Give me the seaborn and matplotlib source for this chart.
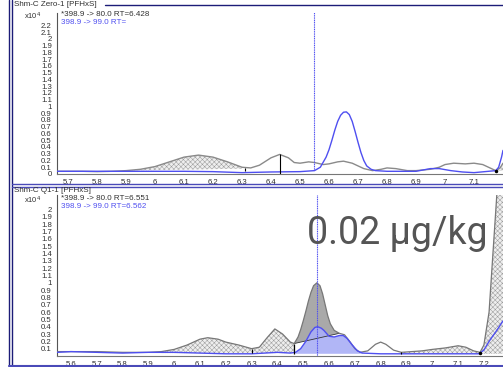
import numpy as np
import matplotlib
matplotlib.use("Agg")
import matplotlib.pyplot as plt
import seaborn as sns

# ---------------- data (intensity in x10^4 counts) ----------------
# Top panel: Shm-C Zero-1
top_rt_80 = [5.66, 5.70, 5.75, 5.80, 5.85, 5.90, 5.95, 6.00, 6.05, 6.10, 6.15, 6.20, 6.25,
             6.30, 6.33, 6.36, 6.40, 6.43, 6.46, 6.48, 6.50, 6.53, 6.55, 6.58, 6.60, 6.63,
             6.65, 6.68, 6.72, 6.75, 6.78, 6.80, 6.83, 6.87, 6.90, 6.95, 6.98, 7.00, 7.03,
             7.07, 7.10, 7.13, 7.16, 7.175, 7.19, 7.20]
top_int_80 = [0.04, 0.04, 0.04, 0.035, 0.04, 0.05, 0.07, 0.11, 0.18, 0.25, 0.28, 0.25, 0.18,
              0.10, 0.09, 0.13, 0.24, 0.29, 0.24, 0.17, 0.16, 0.18, 0.17, 0.14, 0.15, 0.18,
              0.19, 0.16, 0.08, 0.05, 0.07, 0.09, 0.08, 0.05, 0.05, 0.07, 0.10, 0.14, 0.16,
              0.15, 0.16, 0.14, 0.08, 0.05, 0.09, 0.16]
top_rt_99 = [5.66, 5.80, 5.90, 6.00, 6.10, 6.20, 6.30, 6.40, 6.50, 6.55, 6.57, 6.59, 6.60,
             6.61, 6.62, 6.63, 6.64, 6.65, 6.66, 6.67, 6.68, 6.69, 6.70, 6.71, 6.72, 6.73,
             6.745, 6.76, 6.80, 6.85, 6.90, 6.95, 6.98, 7.02, 7.06, 7.10, 7.15, 7.175, 7.185,
             7.195, 7.20]
top_int_99 = [0.04, 0.04, 0.04, 0.04, 0.04, 0.035, 0.02, 0.03, 0.035, 0.05, 0.10, 0.25, 0.36,
              0.50, 0.65, 0.78, 0.87, 0.915, 0.92, 0.88, 0.78, 0.63, 0.47, 0.32, 0.20, 0.12,
              0.07, 0.05, 0.04, 0.04, 0.04, 0.08, 0.08, 0.05, 0.03, 0.02, 0.04, 0.05, 0.10,
              0.25, 0.35]

# Bottom panel: Shm-C Q1-1
bot_rt_80 = [5.546, 5.60, 5.70, 5.80, 5.90, 5.95, 6.00, 6.05, 6.10, 6.13, 6.17, 6.20, 6.25,
             6.30, 6.33, 6.36, 6.39, 6.42, 6.45, 6.465, 6.48, 6.49, 6.50, 6.51, 6.52, 6.53,
             6.54, 6.553, 6.565, 6.575, 6.585, 6.595, 6.605, 6.62, 6.64, 6.66, 6.68, 6.70,
             6.72, 6.75, 6.78, 6.80, 6.82, 6.85, 6.88, 6.92, 6.96, 7.00, 7.05, 7.10, 7.13,
             7.16, 7.185, 7.20, 7.22, 7.235, 7.25, 7.26, 7.274]
bot_int_80 = [0.06, 0.06, 0.06, 0.05, 0.05, 0.06, 0.09, 0.15, 0.23, 0.25, 0.23, 0.19, 0.15,
              0.10, 0.12, 0.25, 0.37, 0.30, 0.19, 0.17, 0.26, 0.36, 0.48, 0.61, 0.75, 0.87,
              0.96, 1.00, 0.96, 0.85, 0.70, 0.55, 0.44, 0.35, 0.31, 0.29, 0.20, 0.10,
              0.05, 0.07, 0.16, 0.19, 0.16, 0.08, 0.05, 0.06, 0.07, 0.09, 0.11, 0.14, 0.12,
              0.07, 0.05, 0.15, 0.60, 1.40, 2.20, 2.40, 2.50]
bot_rt_99 = [5.546, 5.60, 5.70, 5.80, 5.90, 6.00, 6.10, 6.20, 6.30, 6.40, 6.45, 6.47, 6.49,
             6.51, 6.53, 6.545, 6.556, 6.57, 6.58, 6.60, 6.62, 6.64, 6.655, 6.67, 6.69, 6.71,
             6.73, 6.80, 6.90, 7.00, 7.10, 7.18, 7.20, 7.22, 7.25, 7.274]
bot_int_99 = [0.05, 0.06, 0.05, 0.04, 0.05, 0.05, 0.04, 0.03, 0.03, 0.05, 0.04, 0.05, 0.10,
              0.20, 0.33, 0.39, 0.40, 0.38, 0.35, 0.27, 0.26, 0.28, 0.28, 0.24, 0.15, 0.07,
              0.04, 0.03, 0.03, 0.03, 0.03, 0.03, 0.08, 0.20, 0.35, 0.48]

expected_rt = [6.548, 6.553]
top_title = "Shm-C Zero-1 [PFHxS]"
bot_title = "Shm-C Q1-1 [PFHxS]"
top_legend = ["*398.9 -> 80.0 RT=6.428", "398.9 -> 99.0 RT="]
bot_legend = ["*398.9 -> 80.0 RT=6.551", "398.9 -> 99.0 RT=6.562"]
top_xticks = [5.7, 5.8, 5.9, 6.0, 6.1, 6.2, 6.3, 6.4, 6.5, 6.6, 6.7, 6.8, 6.9, 7.0, 7.1]
bot_xticks = [5.6, 5.7, 5.8, 5.9, 6.0, 6.1, 6.2, 6.3, 6.4, 6.5, 6.6, 6.7, 6.8, 6.9, 7.0, 7.1, 7.2]
top_yticks = [round(0.1 * i, 1) for i in range(0, 23)]
bot_yticks = [round(0.1 * i, 1) for i in range(1, 21)]
annotation = "0.02 µg/kg"

# ---------------- style ----------------
sns.set_style("white")
plt.rcParams['font.family'] = ['Liberation Sans', 'DejaVu Sans']
plt.rcParams['hatch.linewidth'] = 0.35
plt.rcParams['hatch.color'] = '#9a9a9a'

GRAY = '#8a8a8a'
BLUE = '#4f4ff0'
NAVY = '#1c1c78'
SEP = '#4a4ab8'
TXT = '#303030'

W, H = 503, 367
fig = plt.figure(figsize=(W / 100, H / 100), dpi=100)


def fx(px):
    return px / W


def fy(py):
    return 1 - py / H


def setup(ax, xlim, ylim, xticks, yticks):
    ax.set_xlim(*xlim)
    ax.set_ylim(*ylim)
    ax.set_xticks(xticks)
    ax.set_xticklabels([f"{v:g}" for v in xticks])
    ax.set_yticks(yticks)
    ax.set_yticklabels([f"{v:g}" for v in yticks])
    for s in ['top', 'right']:
        ax.spines[s].set_visible(False)
    ax.spines['left'].set_color('#555555')
    ax.spines['left'].set_linewidth(0.8)
    ax.spines['bottom'].set_color('#777777')
    ax.spines['bottom'].set_linewidth(0.8)
    ax.tick_params(axis='both', direction='out', length=2.5, width=0.6, colors='#555555',
                   labelsize=5.6, labelcolor=TXT, pad=1.2)
    ax.set_xlabel("")
    ax.set_ylabel("")
    ax.patch.set_alpha(0)


# ---------------- top panel ----------------
ax1 = fig.add_axes([fx(57), fy(174), fx(503 - 57), fy(13) - fy(174)])
t80 = np.array(top_rt_80); i80 = np.array(top_int_80)
t99 = np.array(top_rt_99); i99 = np.array(top_int_99)

m = (t80 >= 5.90) & (t80 <= 6.31)
base = np.interp(t80[m], [5.90, 6.31], [0.05, 0.08])
ax1.fill_between(t80[m], base, i80[m], facecolor='#eeeeee', edgecolor='#9a9a9a',
                 hatch='xxxxxxx', linewidth=0, zorder=1)
m = t80 >= 7.175
ax1.fill_between(t80[m], 0.05, i80[m], facecolor='#eeeeee', edgecolor='#9a9a9a',
                 hatch='xxxxxxx', linewidth=0, zorder=1)
sns.lineplot(x=top_rt_80, y=top_int_80, ax=ax1, color=GRAY, lw=1.0, estimator=None, sort=False, zorder=3)
sns.lineplot(x=top_rt_99, y=top_int_99, ax=ax1, color=BLUE, lw=1.0, estimator=None, sort=False, zorder=4)
ax1.vlines(6.43, 0, 0.29, color='black', lw=0.8, zorder=5)
ax1.vlines(6.31, 0.05, 0.09, color='black', lw=0.8, zorder=5)
ax1.plot([7.175], [0.05], 'o', color='black', ms=1.5, zorder=5)
ax1.vlines(expected_rt[0], 0.06, 2.4, color=BLUE, lw=0.8, linestyles=(0, (1, 0.6)), zorder=5)
setup(ax1, (5.662, 7.2), (0, 2.385), top_xticks, top_yticks)

# ---------------- bottom panel ----------------
ax2 = fig.add_axes([fx(57), fy(356), fx(503 - 57), fy(195) - fy(356)])
b80 = np.array(bot_rt_80); j80 = np.array(bot_int_80)
b99 = np.array(bot_rt_99); j99 = np.array(bot_int_99)

m = (b80 >= 5.95) & (b80 <= 6.465)
ax2.fill_between(b80[m], 0.04, j80[m], facecolor='#eeeeee', edgecolor='#9a9a9a',
                 hatch='xxxxxxx', linewidth=0, zorder=1)
m = b80 >= 6.88
ax2.fill_between(b80[m], 0.03, j80[m], facecolor='#eeeeee', edgecolor='#9a9a9a',
                 hatch='xxxxxxx', linewidth=0, zorder=1)
# main peak with sloped baseline
m = (b80 >= 6.465) & (b80 <= 6.64)
line = np.interp(b80[m], [6.465, 6.64], [0.17, 0.31])
ax2.fill_between(b80[m], line, j80[m], facecolor='#a9a9a9', edgecolor='none', zorder=2)
ax2.plot([6.465, 6.64], [0.17, 0.31], color='#333333', lw=0.6, zorder=3)
m = (b99 >= 6.47) & (b99 <= 6.73)
ax2.fill_between(b99[m], 0.03, j99[m], facecolor='#a9aef6', edgecolor='none', alpha=0.9, zorder=2)
sns.lineplot(x=bot_rt_80, y=bot_int_80, ax=ax2, color='#777777', lw=0.9, estimator=None, sort=False, zorder=3)
sns.lineplot(x=bot_rt_99, y=bot_int_99, ax=ax2, color=BLUE, lw=1.0, estimator=None, sort=False, zorder=4)
ax2.vlines(6.30, 0.04, 0.10, color='black', lw=0.8, zorder=5)
ax2.vlines(6.465, 0.03, 0.17, color='black', lw=0.9, zorder=5)
ax2.vlines(6.88, 0.03, 0.06, color='black', lw=0.8, zorder=5)
ax2.plot([7.185], [0.04], 'o', color='black', ms=1.5, zorder=5)
ax2.vlines(expected_rt[1], 0, 2.2, color=BLUE, lw=0.8, linestyles=(0, (1, 0.6)), zorder=5)
setup(ax2, (5.546, 7.274), (0, 2.2), bot_xticks, bot_yticks)

# ---------------- frame & header texts ----------------
for xp in (9, 12):
    fig.add_artist(plt.Line2D([fx(xp), fx(xp)], [0, 1], color=NAVY, lw=1.0))
fig.add_artist(plt.Line2D([fx(105), 1], [fy(4.5), fy(4.5)], color=NAVY, lw=1.0))
for yp in (184, 186.5):
    fig.add_artist(plt.Line2D([fx(12), 1], [fy(yp), fy(yp)], color=SEP, lw=1.0))
fig.add_artist(plt.Line2D([fx(9), 1], [fy(366), fy(366)], color=SEP, lw=1.5))

fs = 5.8
fig.text(fx(14), fy(4.0), top_title, fontsize=fs, color=TXT, va='center', ha='left')
fig.text(fx(24), fy(16), r"x10$^{4}$", fontsize=5.4, color=TXT, va='center', ha='left')
fig.text(fx(61), fy(15), top_legend[0], fontsize=fs, color=TXT, va='center', ha='left')
fig.text(fx(61), fy(22.5), top_legend[1], fontsize=fs, color=BLUE, va='center', ha='left')

fig.text(fx(14), fy(190.5), bot_title, fontsize=fs, color=TXT, va='center', ha='left')
fig.text(fx(24), fy(200), r"x10$^{4}$", fontsize=5.4, color=TXT, va='center', ha='left')
fig.text(fx(61), fy(198.5), bot_legend[0], fontsize=fs, color=TXT, va='center', ha='left')
fig.text(fx(61), fy(206), bot_legend[1], fontsize=fs, color=BLUE, va='center', ha='left')

fig.text(fx(307), fy(233), annotation, fontsize=27, color='#555555', va='center', ha='left',
         family=['Roboto', 'DejaVu Sans'])

fig.savefig("out.png", dpi=100)
